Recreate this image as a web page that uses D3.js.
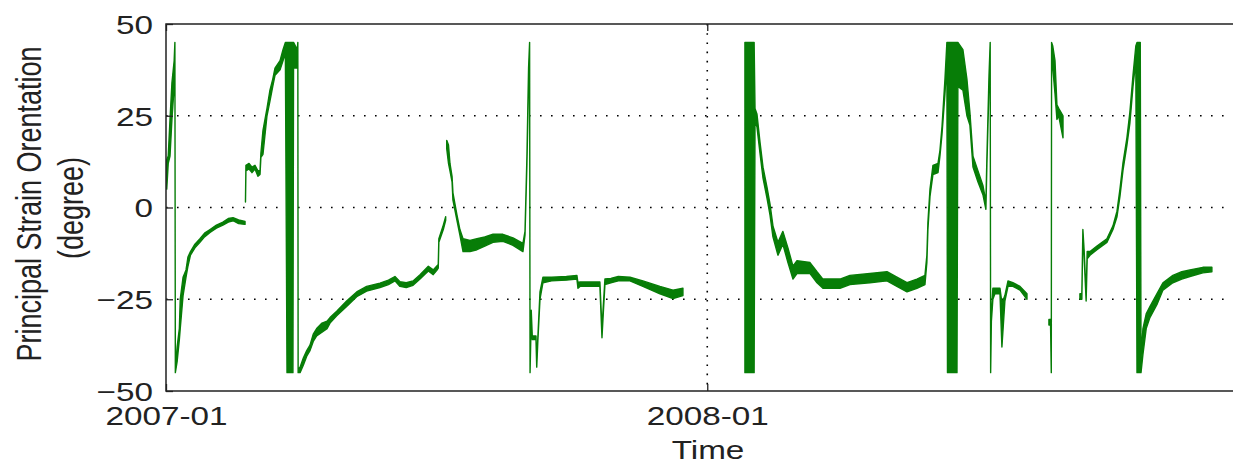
<!DOCTYPE html>
<html>
<head>
<meta charset="utf-8">
<script src="https://cdn.jsdelivr.net/npm/d3@7"></script>
<style>
  html, body { margin: 0; padding: 0; background: #fff; }
  svg { display: block; }
</style>
</head>
<body>
<svg id="chart" width="1233" height="463"></svg>
<script>
// Principal strain orientation record (degrees, wrapped to ±45°).
// Each run is a continuous stretch of logging: [days since 2007-01-01, daily low, daily high].
const startDate = "2007-01-01";

const run2007a = [
  [0.5, 5, 13], [1.5, 12, 14], [2.7, 14, 24], [4.0, 24, 34], [5.5, 33, 40], [6.0, 44, 45],
  [6.3, -45, -44], [7.5, -42, -38], [9.0, -36, -33], [9.6, -33, -25], [11.5, -24, -19],
  [13.5, -19, -17], [14.8, -16, -13.5], [16.5, -13, -12], [19.5, -11, -10], [22.9, -9.5, -8.5],
  [26, -8, -7], [29.7, -6.8, -6], [34, -5.6, -4.8], [38.4, -4.8, -4], [42, -4, -3],
  [45.2, -3.6, -2.8], [49, -4.4, -3.4], [53.3, -4.6, -3.8]
];

const run2007b = [
  [53.6, 1.5, 2], [53.9, 10, 11.5], [56, 10.5, 12], [58, 9.5, 11], [60, 10.5, 11.5],
  [62, 8.5, 10], [63.4, 9, 10], [64, 13.7, 14.8], [65.4, 14.5, 21], [68.1, 25, 27],
  [70.1, 29, 32], [72, 33, 35], [73.5, 36, 38], [76.9, 37.5, 40], [78.9, 40, 43],
  [80.5, 42, 45], [81.6, -45, 45], [85.6, -45, 45], [86.0, 38, 45], [88.5, 38, 43],
  [88.9, 44, 45], [89.1, -45, -44], [90.4, -45, -43.5], [92.6, -43, -41], [94.9, -40.5, -39],
  [97.1, -39, -37.5], [99.3, -36.5, -34.5], [101.6, -35, -33], [105.2, -34, -31.5],
  [108.6, -33, -31], [110.6, -31.5, -30], [115.1, -29.5, -28.3], [121.8, -27, -25.5],
  [128.6, -24.3, -23], [135.3, -22.8, -21.5], [144.3, -21.8, -20.6], [150, -21, -19.8],
  [154.4, -20, -18.8], [157.8, -21.5, -20.2], [162, -21.8, -20.5], [166.6, -21.2, -20],
  [171.3, -19.5, -18.3], [176.9, -17.3, -16], [180.2, -18.3, -17], [182.5, -17.2, -16],
  [183.6, -16.5, -15.5], [184.0, -9.5, -8.5], [187.0, -6, -4.8], [188.6, -3.5, -2.5]
];

const run2007c = [
  [189.3, 16, 18.3], [190.5, 12, 17], [191.5, 10, 12], [192.9, 7, 8.5], [193.5, 2, 4],
  [196.2, -3.5, -2], [198.2, -7.5, -6], [200.3, -12, -8.5], [205.0, -12, -9],
  [209.7, -11.5, -8.5], [215, -10.5, -8], [220.5, -9.5, -7.3], [227.2, -9.2, -7.3],
  [234.0, -10.3, -8.3], [240.7, -12, -9.8], [242.1, -7.5, -6.5], [243.4, 12, 14],
  [244.5, 34, 38], [245.2, 44, 45], [245.5, -45, -44], [246.3, -30, -28], [247.0, -36, -35],
  [249.5, -36, -35], [250.0, -43.5, -42], [250.8, -36, -35], [252.2, -25, -23],
  [254.2, -20.5, -19], [260, -20, -19], [270, -19.8, -18.8], [277.1, -19.5, -18.5],
  [277.8, -22, -20.5], [279.2, -21.5, -20.3], [292.6, -21.5, -20.3], [294.0, -35.5, -33],
  [295, -28, -26], [296.0, -21, -19.5], [300, -20.5, -19.3], [305, -20, -18.8],
  [312.9, -20, -19], [321.6, -21.5, -20], [333.1, -23.5, -21.5], [341.9, -24.8, -22.5],
  [348.6, -24, -22]
];

const run2008a = [
  [390.4, -45, 45], [396.6, -45, 45], [397.2, 23.5, 27], [398.5, 22, 25.5], [400.5, 15, 18],
  [402.6, 8, 11], [405.3, 2.5, 5.5], [407.3, -2, 1], [409.3, -8, -5], [412.7, -13, -9.5],
  [416.0, -10, -6.5], [419.4, -15, -11], [422.8, -19.5, -16], [425.5, -18, -14.5],
  [434.3, -18, -15], [439.0, -20.5, -17.5], [443.0, -22, -19.5], [454.5, -22, -19.5],
  [461.2, -21, -18.5], [474.7, -20.5, -18], [486.2, -20, -17.5], [492.9, -21.5, -19],
  [499.7, -23, -20.5], [506.4, -22, -19.5], [511.8, -21, -18.5], [513.1, -15, -13],
  [513.8, -6, -4], [515.2, 3, 5], [517.2, 9, 11.5], [520.6, 9.5, 12], [521.9, 14, 15.5],
  [523.3, 20, 22], [525.3, 31, 35], [526.6, 40, 45], [527.0, -45, 45], [533.4, -45, 45],
  [534, 33, 45], [537.4, 32, 43], [540.1, 25, 35], [542.1, 22.5, 26], [544.2, 11, 14],
  [547.5, 7, 10], [550.9, 3.5, 6], [552.9, -0.5, 1.5], [553.6, 12, 14], [555.0, 33, 36],
  [555.8, 44, 45], [556.1, -45, -44], [556.6, -31, -29], [557.6, -25, -22], [559.0, -23.5, -22],
  [562.4, -23.5, -22], [563.7, -38, -26], [565.7, -25.5, -24], [567.8, -21.5, -20],
  [571.1, -21.5, -20.5], [575.9, -22.5, -21.5], [580.6, -25, -23.5]
];

const run2008b = [
  [595.4, -32, -30.5], [596.5, -32, -30.5], [597.0, -45, -44], [597.2, 44, 45],
  [598, 38, 44], [599.5, 31, 40], [600.8, 24, 28], [602, 25, 27], [604.9, 19, 25]
];

const run2008c = [
  [616.3, -25, -23.5], [617.6, -25, -23.5], [618.3, -7, -6], [619.2, -14, -12],
  [620.5, -25.5, -24], [621.2, -14, -12], [623.1, -13, -12], [627.8, -11.5, -10.5],
  [634.5, -9.5, -8.5], [638.6, -6, -5], [641.3, -2.5, -1], [643.3, 3, 5], [645.3, 10, 12],
  [648.0, 17, 19], [650.0, 23, 26], [652.1, 33, 36], [654.0, 40, 44], [654.8, -45, 45],
  [657.0, -45, 45], [657.5, -45, -41], [658.8, -40, -33], [661, -33, -29], [663.5, -30, -27],
  [668.2, -26.5, -23.5], [672.3, -22.5, -20.5], [679.0, -20.5, -18.5], [685, -19.5, -17.5],
  [690.5, -18.8, -17], [699.2, -17.8, -16.3], [705.3, -17.5, -16.3]
];

const runs = [run2007a, run2007b, run2007c, run2008a, run2008b, run2008c];

const yTicks = [-50, -25, 0, 25, 50];
const yGrid = [-25, 0, 25];
const xTickLabels = ["2007-01", "2008-01"];
const xDomain = ["2007-01-01", "2009-01-01"];
const xGrid = ["2008-01-01"];

const yTitle = ["Principal Strain Orentation", "(degree)"];
const xTitle = "Time";

// ---- layout ----
const plotLeft = 166, plotTop = 24, plotBottom = 391, plotRight = 1250;
const textStretch = 1.28;
const fontFamily = "'Liberation Sans', Arial, Helvetica, sans-serif";
const ink = "#222";
const lineColor = "#077d07";

const parse = d3.utcParse("%Y-%m-%d");
const parseMonth = d3.utcParse("%Y-%m");
const t0 = parse(startDate).getTime();
const toDate = d => new Date(t0 + d * 864e5);

const x = d3.scaleUtc().domain(xDomain.map(parse)).range([plotLeft, plotRight]);
const y = d3.scaleLinear().domain([-50, 50]).range([plotBottom, plotTop]);

const svg = d3.select("#chart");

svg.append("defs").append("clipPath").attr("id", "plot-clip")
  .append("rect").attr("x", plotLeft).attr("y", plotTop)
  .attr("width", plotRight - plotLeft).attr("height", plotBottom - plotTop);

// dotted grid
const grid = svg.append("g").attr("stroke", "#000").attr("fill", "none");
grid.selectAll("line.h").data(yGrid).join("line").attr("class", "h")
  .attr("x1", plotLeft).attr("x2", plotRight)
  .attr("y1", d => y(d)).attr("y2", d => y(d))
  .attr("stroke-width", 1.6).attr("stroke-dasharray", "1.6,9.4");
grid.selectAll("line.v").data(xGrid.map(parse)).join("line").attr("class", "v")
  .attr("x1", d => x(d)).attr("x2", d => x(d))
  .attr("y1", plotTop).attr("y2", plotBottom)
  .attr("stroke-width", 1.6).attr("stroke-dasharray", "1.6,7.6");

// data: daily low/high envelope, outlined so quiet stretches read as a line
const band = d3.area()
  .x(d => x(toDate(d[0])))
  .y0(d => y(d[1]))
  .y1(d => y(d[2]));

svg.append("g").attr("clip-path", "url(#plot-clip)")
  .selectAll("path").data(runs).join("path")
  .attr("d", band)
  .attr("fill", lineColor)
  .attr("stroke", lineColor)
  .attr("stroke-width", 1.4)
  .attr("stroke-linejoin", "round");

// frame
svg.append("path")
  .attr("d", `M${plotRight},${plotTop}H${plotLeft}V${plotBottom}H${plotRight}`)
  .attr("fill", "none").attr("stroke", ink).attr("stroke-width", 1.5);

// axes
const xTickDates = xTickLabels.map(parseMonth);
const gx = svg.append("g").attr("transform", `translate(0,${plotBottom})`)
  .call(d3.axisBottom(x).tickValues(xTickDates).tickFormat(d3.utcFormat("%Y-%m"))
    .tickSizeInner(-7).tickSizeOuter(0));
gx.select(".domain").remove();
gx.selectAll(".tick line").attr("stroke", ink).attr("stroke-width", 1.3);
gx.selectAll(".tick text")
  .attr("y", 34).attr("dy", null)
  .attr("transform", `scale(${textStretch},1)`)
  .attr("fill", ink).attr("font-size", 26).attr("font-family", fontFamily);

const gxTop = svg.append("g").attr("transform", `translate(0,${plotTop})`)
  .call(d3.axisTop(x).tickValues(xTickDates).tickFormat("").tickSizeInner(-7).tickSizeOuter(0));
gxTop.select(".domain").remove();
gxTop.selectAll(".tick line").attr("stroke", ink).attr("stroke-width", 1.3);

const gy = svg.append("g").attr("transform", `translate(${plotLeft},0)`)
  .call(d3.axisLeft(y).tickValues(yTicks).tickFormat(d3.format("d"))
    .tickSizeInner(-7).tickSizeOuter(0));
gy.select(".domain").remove();
gy.selectAll(".tick line").attr("stroke", ink).attr("stroke-width", 1.3);
gy.selectAll(".tick text")
  .attr("x", -13 / textStretch).attr("dy", "0.36em")
  .attr("transform", `scale(${textStretch},1)`)
  .attr("fill", ink).attr("font-size", 26).attr("font-family", fontFamily);

// titles
svg.append("text")
  .attr("transform", `translate(${(plotLeft + plotRight) / 2},459) scale(${textStretch},1)`)
  .attr("text-anchor", "middle")
  .attr("fill", ink).attr("font-size", 26).attr("font-family", fontFamily)
  .text(xTitle);

const yTitleX = [41, 83];
const yTitleY = [204, 208];
svg.selectAll("text.ytitle").data(yTitle).join("text").attr("class", "ytitle")
  .attr("transform", (d, i) => `translate(${yTitleX[i]},${yTitleY[i]}) scale(${textStretch},1) rotate(-90)`)
  .attr("text-anchor", "middle")
  .attr("fill", ink).attr("font-size", 27).attr("font-family", fontFamily)
  .text(d => d);
</script>
</body>
</html>
